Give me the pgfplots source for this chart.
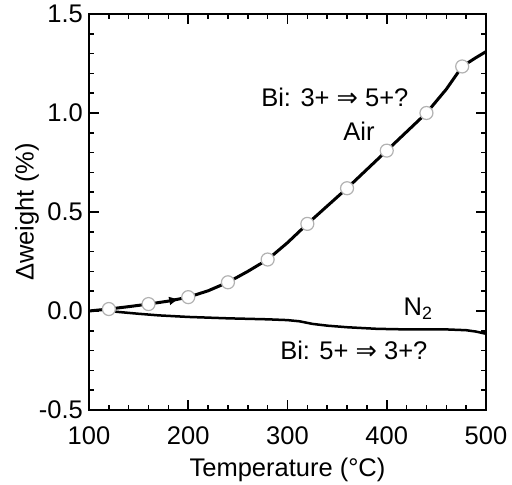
\documentclass[border=0pt]{standalone}
\usepackage{fontspec}
\setmainfont{Liberation Sans}
\newfontfamily\dejavu{DejaVu Sans}
\usepackage{pgfplots}
\pgfplotsset{compat=1.18}
\usetikzlibrary{decorations.markings, arrows.meta}
\begin{document}
\fontsize{25.5bp}{30bp}\selectfont
\begin{tikzpicture}
\useasboundingbox (-89bp,-75bp) rectangle (423bp,410bp);
\begin{axis}[
  scale only axis, width=397bp, height=396bp,
  xmin=100, xmax=500, ymin=-0.5, ymax=1.5,
  xtick={100,200,300,400,500}, ytick={-0.5,0,0.5,1,1.5},
  minor x tick num=4, minor y tick num=4,
  tick align=inside, xtick pos=both, ytick pos=both,
  xticklabel pos=bottom, yticklabel pos=left,
  major tick length=10bp, minor tick length=5bp,
  every tick/.style={black, line width=1.6bp},
  axis line style={line width=2.2bp},
  /pgf/number format/assume math mode=true,
  yticklabel style={inner xsep=6bp, inner ysep=0bp, /pgf/number format/.cd, fixed, fixed zerofill, precision=1},
  xticklabel style={yshift=-16bp, inner sep=0bp, /pgf/number format/.cd, fixed, precision=0, 1000 sep={}},
  xlabel={Temperature (°C)},
  ylabel={Δweight (\%)},
  every axis x label/.style={at={(axis description cs:0.5,-0.169)}, anchor=base},
  every axis y label/.style={at={(axis description cs:-0.156,0.5)}, rotate=90, anchor=center},
  clip=false,
]
% Air curve
\addplot[black, line width=3bp, mark=none,
  postaction={decorate},
  decoration={markings, mark=at position 91bp with {\arrow{Latex[length=10bp,width=9bp]}}}]
  table {
x y
100 0.0
120 0.01
140 0.022
160 0.035
180 0.05
200 0.07
220 0.102
240 0.145
260 0.2
280 0.26
300 0.345
320 0.44
340 0.53
360 0.62
380 0.715
400 0.81
420 0.905
440 1.0
460 1.12
476 1.235
490 1.28
500 1.31
};
\addplot[only marks, mark=*, mark size=6.5bp,
  mark options={fill=white, draw=black!30, line width=1.2bp}]
  table {
x y
120 0.01
160 0.035
200 0.07
240 0.145
280 0.26
320 0.44
360 0.62
400 0.81
440 1.0
476 1.235
};
% N2 curve
\addplot[black, line width=2.5bp, mark=none] table {
x y
120 0.0
130 -0.005
150 -0.014
170 -0.022
200 -0.03
240 -0.037
280 -0.042
300 -0.046
312 -0.052
325 -0.065
340 -0.074
360 -0.082
390 -0.09
420 -0.093
460 -0.093
480 -0.097
490 -0.104
500 -0.115
};
\node at (axis cs:347.7,1.08) {Bi: 3+ {\dejavu ⇒} 5+?};
\node at (axis cs:372,0.91) {Air};
\node at (axis cs:431.6,0.01) {N\textsubscript{2}};
\node at (axis cs:366.8,-0.2) {Bi: 5+ {\dejavu ⇒} 3+?};
\end{axis}
\end{tikzpicture}
\end{document}
